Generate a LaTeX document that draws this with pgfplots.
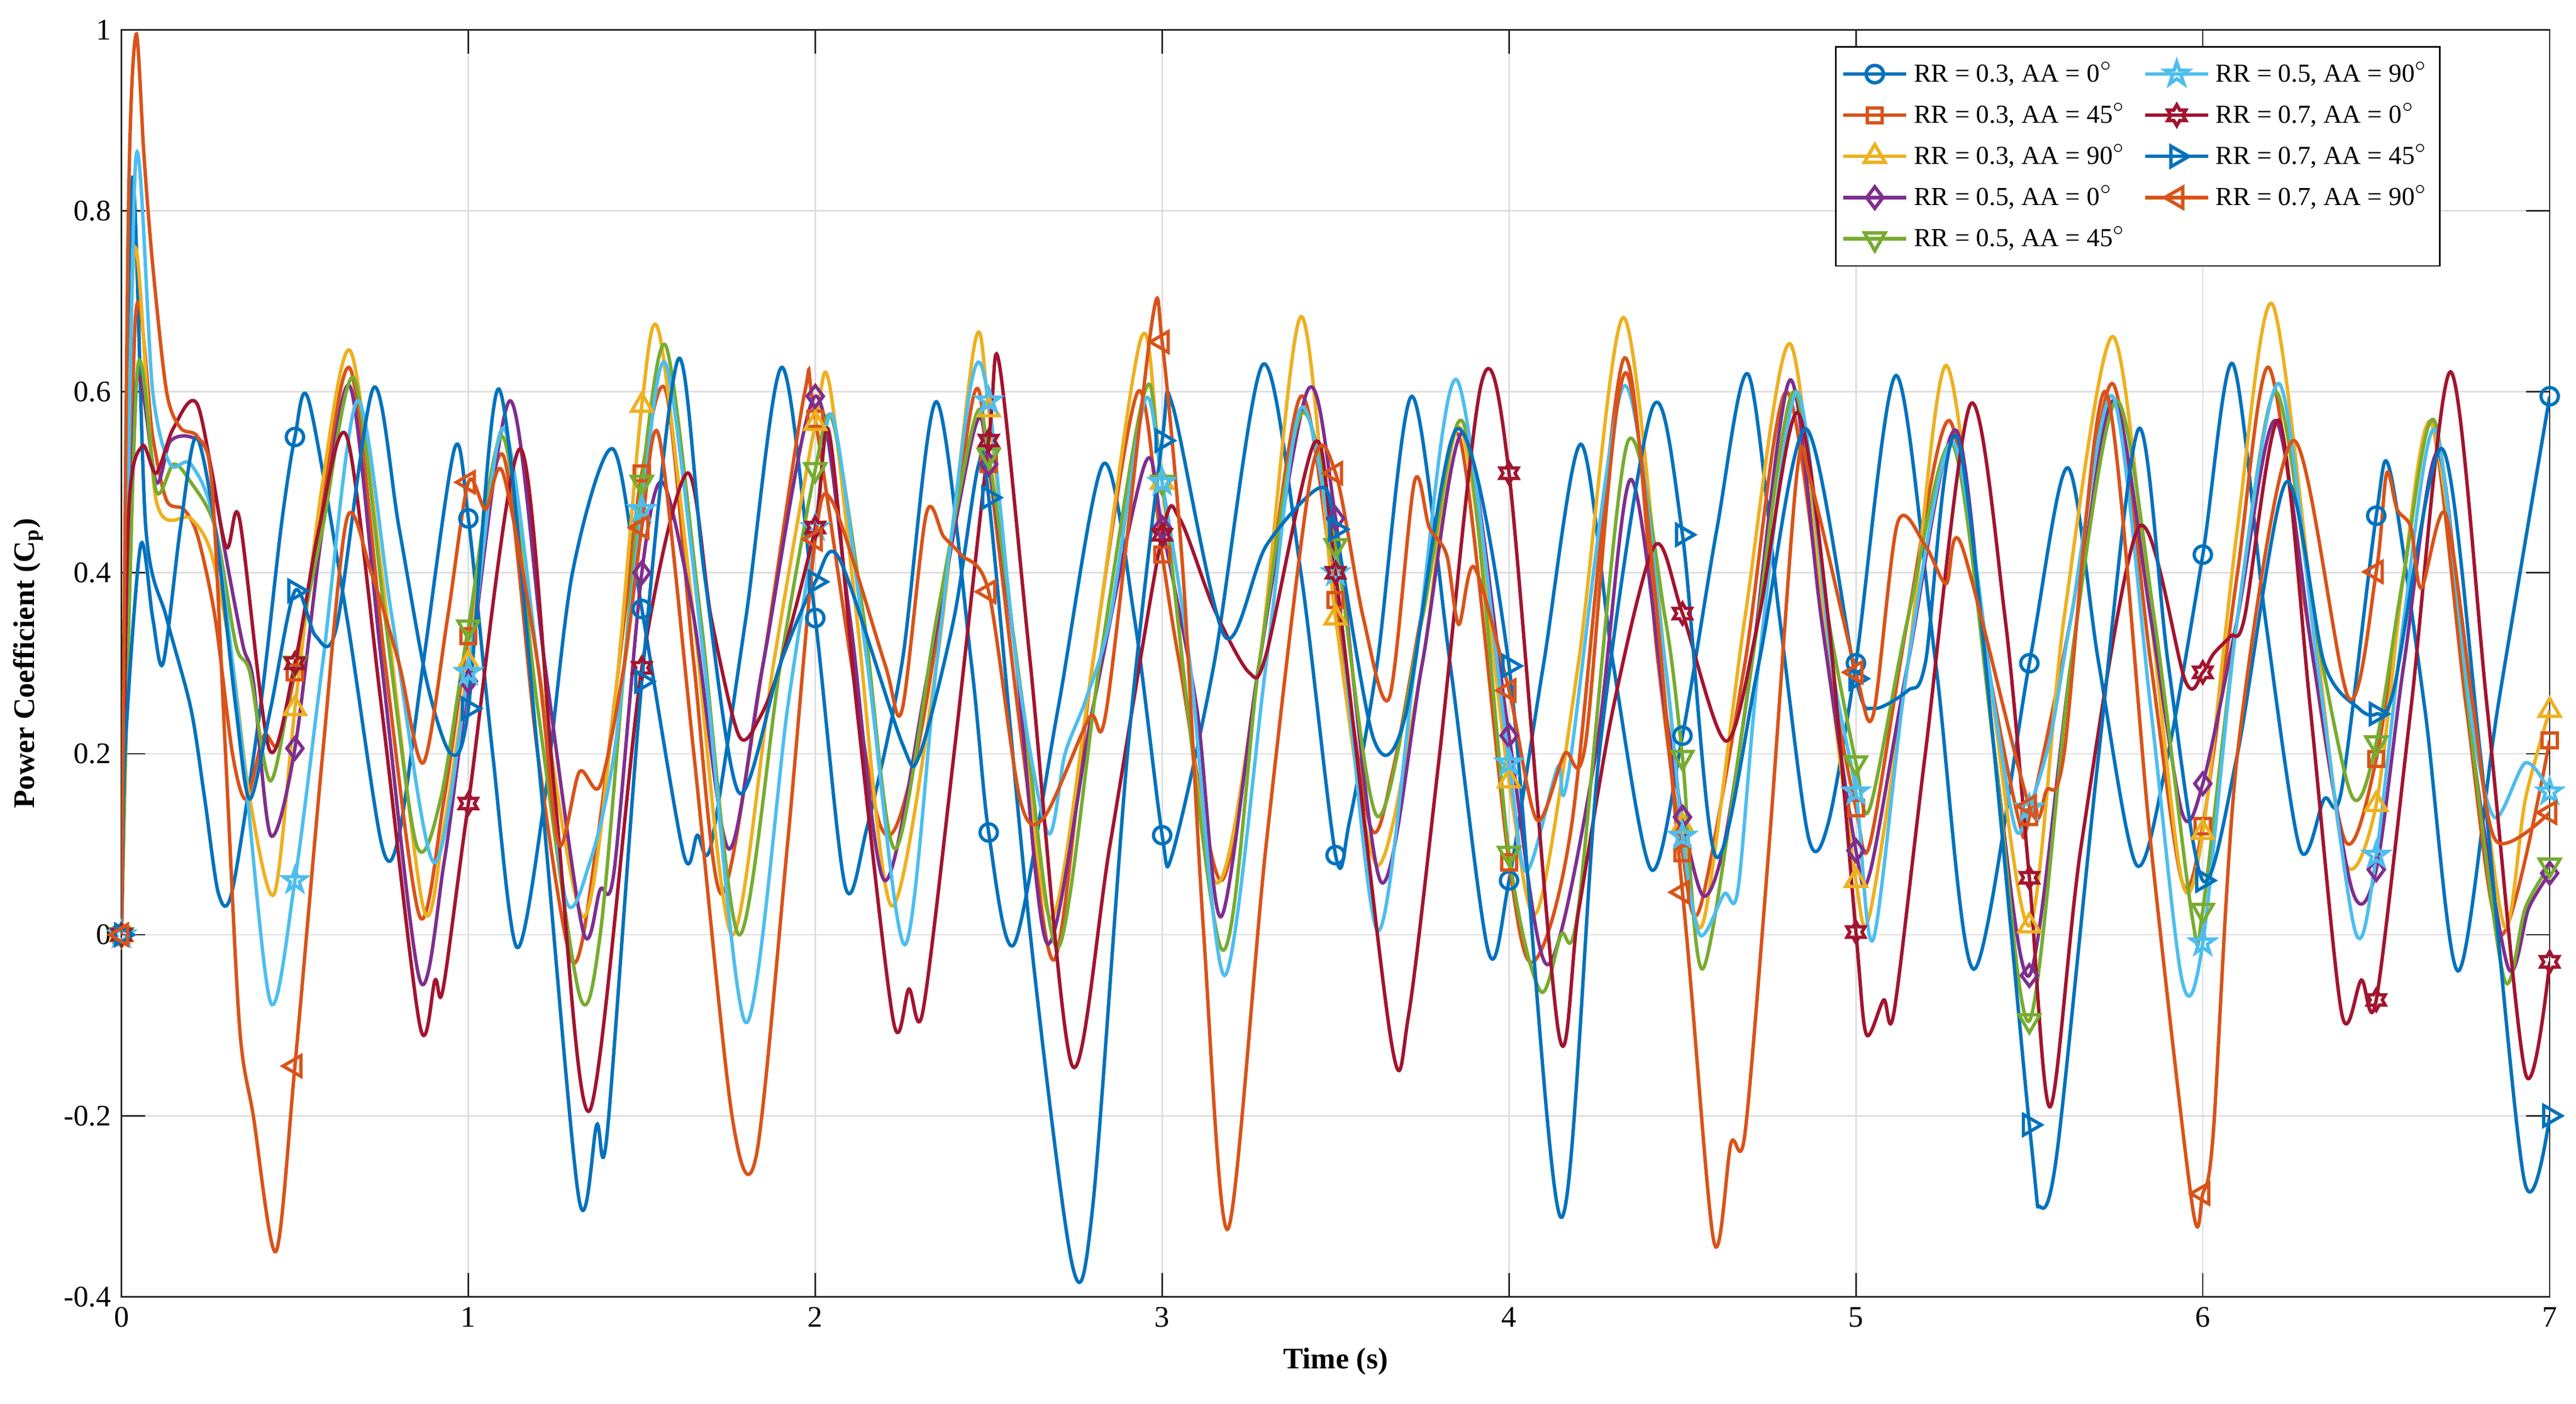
\documentclass[border=0pt]{standalone}
\usepackage{fontspec}
\setmainfont{Liberation Serif}
\usepackage{pgfplots}
\usepackage{pgfplotstable}
\pgfplotsset{compat=1.18}

\definecolor{cA}{rgb}{0,0.447,0.741}
\definecolor{cB}{rgb}{0.85,0.325,0.098}
\definecolor{cC}{rgb}{0.929,0.694,0.125}
\definecolor{cD}{rgb}{0.494,0.184,0.556}
\definecolor{cE}{rgb}{0.466,0.674,0.188}
\definecolor{cF}{rgb}{0.301,0.745,0.933}
\definecolor{cG}{rgb}{0.635,0.078,0.184}

\pgfdeclareplotmark{pentagram}{%
  \pgfpathmoveto{\pgfpointpolar{90}{1.3\pgfplotmarksize}}%
  \pgfpathlineto{\pgfpointpolar{126}{0.5\pgfplotmarksize}}%
  \pgfpathlineto{\pgfpointpolar{162}{1.3\pgfplotmarksize}}%
  \pgfpathlineto{\pgfpointpolar{198}{0.5\pgfplotmarksize}}%
  \pgfpathlineto{\pgfpointpolar{234}{1.3\pgfplotmarksize}}%
  \pgfpathlineto{\pgfpointpolar{270}{0.5\pgfplotmarksize}}%
  \pgfpathlineto{\pgfpointpolar{306}{1.3\pgfplotmarksize}}%
  \pgfpathlineto{\pgfpointpolar{342}{0.5\pgfplotmarksize}}%
  \pgfpathlineto{\pgfpointpolar{18}{1.3\pgfplotmarksize}}%
  \pgfpathlineto{\pgfpointpolar{54}{0.5\pgfplotmarksize}}%
  \pgfpathclose\pgfusepathqstroke}
\pgfdeclareplotmark{hexagram}{%
  \pgfpathmoveto{\pgfpointpolar{90}{1.2\pgfplotmarksize}}%
  \pgfpathlineto{\pgfpointpolar{120}{0.69\pgfplotmarksize}}%
  \pgfpathlineto{\pgfpointpolar{150}{1.2\pgfplotmarksize}}%
  \pgfpathlineto{\pgfpointpolar{180}{0.69\pgfplotmarksize}}%
  \pgfpathlineto{\pgfpointpolar{210}{1.2\pgfplotmarksize}}%
  \pgfpathlineto{\pgfpointpolar{240}{0.69\pgfplotmarksize}}%
  \pgfpathlineto{\pgfpointpolar{270}{1.2\pgfplotmarksize}}%
  \pgfpathlineto{\pgfpointpolar{300}{0.69\pgfplotmarksize}}%
  \pgfpathlineto{\pgfpointpolar{330}{1.2\pgfplotmarksize}}%
  \pgfpathlineto{\pgfpointpolar{0}{0.69\pgfplotmarksize}}%
  \pgfpathlineto{\pgfpointpolar{30}{1.2\pgfplotmarksize}}%
  \pgfpathlineto{\pgfpointpolar{60}{0.69\pgfplotmarksize}}%
  \pgfpathclose\pgfusepathqstroke}

% RR=0.3, AA=0
\pgfplotstableread[row sep=\\]{t v\\
0 0\\0.03 0.83\\0.07 0.45\\0.13 0.35\\0.2 0.25\\0.24 0.15\\0.28 0.045\\0.32 0.05\\0.4 0.25\\0.46 0.45\\
0.5 0.55\\0.54 0.59\\0.65 0.35\\0.75 0.1\\0.8 0.11\\0.87 0.3\\0.96 0.537\\1.0 0.46\\1.07 0.2\\1.14 -0.014\\
1.22 0.15\\1.3 0.4\\1.416 0.537\\1.5 0.36\\1.62 0.09\\1.66 0.11\\1.7 0.1\\1.8 0.35\\1.904 0.627\\2.0 0.35\\
2.086 0.054\\2.15 0.12\\2.25 0.3\\2.349 0.589\\2.45 0.3\\2.5 0.113\\2.574 -0.01\\2.7 0.25\\2.83 0.52\\2.92 0.35\\
3.0 0.11\\3.03 0.09\\3.15 0.3\\3.29 0.63\\3.4 0.4\\3.5 0.088\\3.54 0.125\\3.62 0.3\\3.72 0.595\\3.83 0.3\\
3.94 -0.018\\4.0 0.06\\4.1 0.3\\4.207 0.542\\4.3 0.3\\4.41 0.072\\4.5 0.22\\4.6 0.45\\4.69 0.619\\4.78 0.35\\
4.863 0.108\\4.92 0.123\\5.0 0.3\\5.116 0.618\\5.23 0.3\\5.34 -0.038\\5.5 0.3\\5.61 0.516\\5.7 0.3\\5.809 0.077\\
5.9 0.2\\6.0 0.42\\6.086 0.631\\6.18 0.35\\6.28 0.095\\6.35 0.15\\6.4 0.16\\6.5 0.463\\6.54 0.512\\6.64 0.25\\
6.736 -0.04\\6.85 0.25\\7.0 0.595\\}\dA
% RR=0.3, AA=45
\pgfplotstableread[row sep=\\]{t v\\
0 0\\0.04 0.68\\0.09 0.55\\0.13 0.48\\0.18 0.47\\0.22 0.44\\0.27 0.35\\0.32 0.2\\0.36 0.15\\0.41 0.22\\
0.45 0.21\\0.5 0.29\\0.57 0.45\\0.66 0.625\\0.76 0.3\\0.86 0.02\\0.93 0.15\\1.0 0.33\\1.1 0.53\\1.2 0.2\\
1.3 -0.03\\1.37 0.1\\1.45 0.35\\1.5 0.51\\1.57 0.6\\1.65 0.3\\1.73 0.045\\1.85 0.3\\1.97 0.6\\2.0 0.57\\
2.18 0.13\\2.28 0.18\\2.38 0.4\\2.46 0.6\\2.5 0.52\\2.6 0.2\\2.69 -0.027\\2.8 0.3\\2.93 0.6\\3.0 0.42\\
3.05 0.3\\3.17 0.06\\3.28 0.3\\3.4 0.595\\3.5 0.37\\3.6 0.12\\3.666 0.183\\3.77 0.4\\3.86 0.546\\4.0 0.08\\
4.07 -0.03\\4.18 0.12\\4.33 0.636\\4.43 0.3\\4.5 0.09\\4.55 0.029\\4.68 0.3\\4.8 0.6\\4.92 0.3\\5.0 0.14\\
5.04 0.1\\5.15 0.35\\5.27 0.568\\5.38 0.3\\5.47 0.126\\5.5 0.13\\5.62 0.35\\5.74 0.609\\5.85 0.3\\5.94 0.059\\
6.0 0.12\\6.1 0.4\\6.19 0.627\\6.3 0.35\\6.41 0.104\\6.5 0.194\\6.58 0.4\\6.66 0.565\\6.76 0.25\\6.86 0.0\\
7.0 0.215\\}\dB
% RR=0.3, AA=90
\pgfplotstableread[row sep=\\]{t v\\
0 0\\0.035 0.75\\0.1 0.48\\0.2 0.46\\0.26 0.42\\0.32 0.3\\0.37 0.15\\0.44 0.045\\0.5 0.25\\0.58 0.5\\
0.66 0.645\\0.75 0.4\\0.87 0.03\\0.93 0.12\\1.0 0.3\\1.1 0.56\\1.2 0.3\\1.33 0.02\\1.42 0.25\\1.5 0.585\\
1.55 0.665\\1.65 0.35\\1.76 0.0\\1.88 0.3\\2.0 0.565\\2.04 0.61\\2.12 0.35\\2.22 0.032\\2.35 0.3\\2.46 0.654\\
2.5 0.58\\2.58 0.3\\2.68 0.018\\2.8 0.3\\2.94 0.66\\3.0 0.5\\3.15 0.06\\3.28 0.3\\3.4 0.683\\3.5 0.35\\
3.62 0.077\\3.75 0.3\\3.86 0.56\\4.0 0.17\\4.08 0.025\\4.2 0.3\\4.33 0.682\\4.45 0.3\\4.5 0.12\\4.56 0.014\\
4.68 0.35\\4.81 0.653\\4.92 0.3\\5.0 0.06\\5.04 0.023\\5.15 0.3\\5.26 0.629\\5.38 0.3\\5.5 0.01\\5.6 0.35\\
5.74 0.661\\5.85 0.35\\5.94 0.059\\6.0 0.113\\6.1 0.45\\6.2 0.697\\6.32 0.35\\6.41 0.081\\6.5 0.144\\6.58 0.4\\
6.66 0.564\\6.78 0.25\\6.87 0.009\\6.93 0.15\\7.0 0.248\\}\dC
% RR=0.5, AA=0
\pgfplotstableread[row sep=\\]{t v\\
0 0\\0.04 0.6\\0.1 0.5\\0.14 0.545\\0.2 0.55\\0.25 0.53\\0.3 0.42\\0.35 0.32\\0.38 0.28\\0.43 0.11\\
0.5 0.206\\0.58 0.45\\0.66 0.605\\0.75 0.3\\0.86 -0.05\\0.93 0.08\\1.0 0.28\\1.12 0.59\\1.22 0.3\\1.33 0.005\\
1.38 0.05\\1.42 0.07\\1.5 0.4\\1.56 0.5\\1.65 0.35\\1.75 0.095\\1.85 0.3\\2.0 0.595\\2.1 0.35\\2.2 0.06\\
2.33 0.3\\2.46 0.56\\2.5 0.52\\2.58 0.3\\2.67 -0.01\\2.8 0.25\\2.95 0.52\\3.0 0.45\\3.1 0.25\\3.17 0.02\\
3.28 0.3\\3.42 0.602\\3.5 0.46\\3.63 0.059\\3.75 0.3\\3.87 0.555\\4.0 0.22\\4.11 -0.033\\4.25 0.2\\4.35 0.503\\
4.45 0.25\\4.5 0.13\\4.56 0.043\\4.62 0.1\\4.7 0.3\\4.81 0.613\\4.9 0.35\\5.0 0.093\\5.04 0.068\\5.15 0.3\\
5.29 0.557\\5.4 0.2\\5.5 -0.045\\5.62 0.3\\5.74 0.59\\5.85 0.35\\5.94 0.135\\6.0 0.167\\6.1 0.35\\6.21 0.568\\
6.32 0.3\\6.43 0.05\\6.5 0.072\\6.58 0.3\\6.68 0.532\\6.78 0.2\\6.88 -0.036\\6.94 0.03\\7.0 0.068\\}\dD
% RR=0.5, AA=45
\pgfplotstableread[row sep=\\]{t v\\
0 0\\0.045 0.62\\0.1 0.49\\0.15 0.52\\0.2 0.5\\0.27 0.45\\0.33 0.32\\0.37 0.29\\0.43 0.17\\0.5 0.3\\
0.58 0.45\\0.67 0.615\\0.76 0.35\\0.85 0.1\\0.92 0.15\\1.0 0.34\\1.1 0.55\\1.2 0.25\\1.32 -0.066\\1.38 0.0\\
1.45 0.3\\1.5 0.5\\1.57 0.65\\1.67 0.35\\1.78 0.0\\1.9 0.3\\2.0 0.514\\2.05 0.568\\2.14 0.35\\2.23 0.095\\
2.35 0.35\\2.46 0.57\\2.5 0.53\\2.6 0.25\\2.7 -0.014\\2.82 0.3\\2.95 0.6\\3.0 0.5\\3.17 -0.015\\3.28 0.3\\
3.4 0.575\\3.5 0.43\\3.62 0.131\\3.75 0.35\\3.87 0.564\\4.0 0.09\\4.09 -0.062\\4.15 0.0\\4.2 0.03\\4.34 0.542\\
4.45 0.35\\4.5 0.196\\4.56 -0.037\\4.7 0.3\\4.82 0.6\\4.92 0.35\\5.0 0.19\\5.04 0.14\\5.15 0.35\\5.28 0.541\\
5.4 0.2\\5.5 -0.095\\5.62 0.3\\5.75 0.59\\5.86 0.35\\5.97 0.018\\6.0 0.027\\6.1 0.35\\6.21 0.6\\6.32 0.35\\
6.43 0.153\\6.5 0.212\\6.58 0.4\\6.67 0.566\\6.78 0.2\\6.87 -0.05\\6.93 0.03\\7.0 0.077\\}\dE
% RR=0.5, AA=90
\pgfplotstableread[row sep=\\]{t v\\
0 0\\0.04 0.85\\0.09 0.6\\0.14 0.52\\0.2 0.52\\0.27 0.45\\0.35 0.2\\0.43 -0.075\\0.5 0.06\\0.58 0.3\\
0.68 0.59\\0.78 0.35\\0.9 0.08\\1.0 0.29\\1.1 0.56\\1.2 0.3\\1.28 0.04\\1.35 0.08\\1.42 0.2\\1.5 0.47\\
1.57 0.63\\1.68 0.3\\1.8 -0.097\\1.92 0.25\\2.0 0.45\\2.05 0.573\\2.15 0.3\\2.258 -0.011\\2.35 0.3\\2.45 0.61\\
2.5 0.59\\2.58 0.3\\2.67 0.113\\2.72 0.2\\2.78 0.26\\2.85 0.35\\2.95 0.59\\3.0 0.5\\3.08 0.3\\3.18 -0.045\\
3.3 0.3\\3.4 0.582\\3.5 0.4\\3.62 0.005\\3.73 0.3\\3.85 0.613\\4.0 0.19\\4.05 0.07\\4.14 0.185\\4.17 0.175\\
4.33 0.606\\4.45 0.3\\4.5 0.109\\4.55 0.0\\4.62 0.045\\4.66 0.05\\4.72 0.3\\4.83 0.6\\4.93 0.3\\5.0 0.158\\
5.05 -0.005\\5.15 0.3\\5.28 0.544\\5.4 0.25\\5.46 0.117\\5.5 0.14\\5.56 0.217\\5.62 0.35\\5.74 0.595\\5.85 0.25\\
5.94 -0.05\\6.0 -0.009\\6.1 0.35\\6.22 0.609\\6.33 0.3\\6.44 0.003\\6.5 0.088\\6.58 0.35\\6.67 0.558\\6.77 0.25\\
6.84 0.13\\6.93 0.19\\7.0 0.158\\}\dF
% RR=0.7, AA=0
\pgfplotstableread[row sep=\\]{t v\\
0 0\\0.02 0.46\\0.06 0.54\\0.1 0.51\\0.15 0.56\\0.22 0.585\\0.3 0.43\\0.34 0.46\\0.426 0.205\\0.5 0.3\\
0.57 0.45\\0.65 0.55\\0.75 0.25\\0.86 -0.1\\0.904 -0.05\\0.927 -0.06\\1.0 0.145\\1.149 0.537\\1.25 0.15\\1.35 -0.194\\
1.5 0.295\\1.63 0.51\\1.7 0.35\\1.78 0.22\\1.84 0.24\\1.9 0.3\\2.0 0.45\\2.04 0.555\\2.12 0.25\\2.225 -0.095\\
2.27 -0.06\\2.31 -0.085\\2.4 0.2\\2.5 0.546\\2.53 0.632\\2.62 0.3\\2.74 -0.144\\2.85 0.1\\3.0 0.442\\3.05 0.46\\
3.15 0.36\\3.25 0.29\\3.3 0.31\\3.44 0.544\\3.5 0.4\\3.66 -0.117\\3.71 -0.09\\3.8 0.2\\3.92 0.609\\4.0 0.51\\
4.142 -0.106\\4.2 0.025\\4.3 0.25\\4.42 0.43\\4.5 0.355\\4.626 0.214\\4.72 0.35\\4.83 0.577\\4.92 0.35\\5.0 0.003\\
5.03 -0.11\\5.08 -0.072\\5.11 -0.085\\5.2 0.2\\5.33 0.586\\5.43 0.35\\5.5 0.063\\5.56 -0.19\\5.65 0.1\\5.815 0.45\\
5.95 0.28\\6.0 0.29\\6.03 0.31\\6.08 0.33\\6.12 0.35\\6.22 0.568\\6.31 0.25\\6.4 -0.086\\6.457 -0.05\\6.5 -0.072\\
6.6 0.25\\6.714 0.622\\6.82 0.25\\6.93 -0.153\\7.0 -0.03\\}\dG
% RR=0.7, AA=45
\pgfplotstableread[row sep=\\]{t v\\
0 0\\0.01 0.2\\0.055 0.43\\0.09 0.35\\0.12 0.3\\0.17 0.45\\0.215 0.55\\0.27 0.45\\0.33 0.25\\0.37 0.15\\
0.43 0.25\\0.5 0.38\\0.56 0.33\\0.62 0.34\\0.726 0.604\\0.8 0.45\\0.88 0.28\\0.95 0.2\\1.0 0.25\\1.088 0.603\\
1.2 0.2\\1.318 -0.29\\1.37 -0.21\\1.4 -0.22\\1.5 0.28\\1.605 0.636\\1.68 0.4\\1.78 0.157\\1.9 0.3\\2.0 0.39\\
2.07 0.415\\2.25 0.212\\2.3 0.198\\2.4 0.35\\2.47 0.518\\2.5 0.483\\2.62 0.0\\2.741 -0.365\\2.8 -0.3\\2.9 0.2\\
3.0 0.546\\3.03 0.585\\3.18 0.33\\3.3 0.43\\3.455 0.494\\3.5 0.448\\3.61 0.216\\3.7 0.24\\3.85 0.559\\4.0 0.297\\
4.149 -0.312\\4.26 0.2\\4.413 0.582\\4.5 0.442\\4.595 0.087\\4.72 0.3\\4.856 0.559\\5.0 0.283\\5.05 0.25\\5.15 0.27\\
5.2 0.3\\5.3 0.54\\5.5 -0.21\\5.53 -0.3\\5.58 -0.24\\5.7 0.2\\5.815 0.559\\5.9 0.3\\6.0 0.06\\6.1 0.2\\
6.24 0.5\\6.35 0.3\\6.45 0.25\\6.5 0.244\\6.55 0.27\\6.69 0.537\\6.8 0.2\\6.926 -0.27\\7.0 -0.2\\}\dH
% RR=0.7, AA=90
\pgfplotstableread[row sep=\\]{t v\\
0 0\\0.02 0.8\\0.042 0.995\\0.065 0.86\\0.09 0.74\\0.13 0.6\\0.17 0.56\\0.22 0.55\\0.26 0.5\\0.3 0.2\\0.34 -0.1\\0.38 -0.2\\
0.445 -0.35\\0.5 -0.145\\0.58 0.2\\0.65 0.46\\0.72 0.4\\0.8 0.3\\0.87 0.19\\0.94 0.35\\1.0 0.5\\1.05 0.47\\
1.1 0.51\\1.2 0.3\\1.26 0.1\\1.32 0.18\\1.38 0.165\\1.45 0.3\\1.5 0.45\\1.55 0.55\\1.65 0.2\\1.76 -0.2\\
1.83 -0.244\\1.92 0.1\\2.0 0.437\\2.05 0.478\\2.2 0.3\\2.25 0.248\\2.32 0.465\\2.37 0.44\\2.42 0.42\\2.5 0.379\\
2.59 0.15\\2.66 0.13\\2.79 0.24\\2.84 0.25\\2.97 0.675\\3.0 0.655\\3.06 0.4\\3.12 0.0\\3.19 -0.325\\3.3 0.1\\3.43 0.51\\
3.5 0.51\\3.58 0.35\\3.655 0.262\\3.727 0.5\\3.77 0.45\\3.82 0.42\\3.855 0.343\\3.9 0.406\\4.0 0.27\\4.08 0.127\\
4.16 0.2\\4.22 0.21\\4.34 0.62\\4.5 0.047\\4.59 -0.338\\4.64 -0.23\\4.68 -0.22\\4.75 0.1\\4.83 0.51\\4.87 0.5\\
5.0 0.29\\5.05 0.243\\5.12 0.455\\5.2 0.43\\5.26 0.388\\5.305 0.43\\5.5 0.142\\5.55 0.16\\5.6 0.2\\5.72 0.6\\
5.85 0.1\\5.97 -0.3\\6.0 -0.286\\6.03 -0.22\\6.1 0.2\\6.26 0.546\\6.42 0.262\\6.5 0.401\\6.53 0.51\\6.56 0.47\\
6.6 0.45\\6.63 0.383\\6.7 0.465\\6.78 0.25\\6.845 0.104\\7.0 0.135\\}\dI

\pgfplotsset{
  ln/.style={line width=1.15pt, smooth, tension=0.5, forget plot},
  mk/.style={only marks, forget plot,
    restrict expr to domain={mod(round(\thisrow{t}*1000),500)}{-1:1}},
}

\begin{document}
\begin{tikzpicture}
\begin{axis}[
  at={(0,0)}, anchor=south west, scale only axis,
  width=28.58cm, height=14.91cm,
  xmin=0, xmax=7, ymin=-0.4, ymax=1,
  xtick={0,1,2,3,4,5,6,7},
  ytick={-0.4,-0.2,0,0.2,0.4,0.6,0.8,1},
  grid=major, grid style={line width=0.5pt, draw=black!13},
  axis line style={line width=0.5pt, draw=black!85},
  tick style={line width=0.5pt, draw=black!85},
  tick align=inside, major tick length=0.28cm,
  /pgf/number format/assume math mode=true,
  xlabel={\textbf{Time (s)}},
  ylabel={\textbf{Power Coefficient (C$_{\mathbf{p}}$)}},
  legend columns=2,
  legend cell align=left,
  legend image code/.code={\draw[mark repeat=2,mark phase=2] plot coordinates {(0cm,0cm) (0.37cm,0cm) (0.74cm,0cm)};},
  legend style={at={(axis description cs:0.955,0.987)}, anchor=north east,
    draw=black, line width=0.5pt, fill=white, font=\fontsize{8.7}{10}\selectfont,
    row sep=1.6pt, inner xsep=2pt, inner ysep=3pt,
    /tikz/every even column/.append style={column sep=0.14cm}},
]
\addplot[ln, cA] table[x=t,y=v]{\dA};
\addplot[ln, cB] table[x=t,y=v]{\dB};
\addplot[ln, cC] table[x=t,y=v]{\dC};
\addplot[ln, cD] table[x=t,y=v]{\dD};
\addplot[ln, cE] table[x=t,y=v]{\dE};
\addplot[ln, cF] table[x=t,y=v]{\dF};
\addplot[ln, cG] table[x=t,y=v]{\dG};
\addplot[ln, cA] table[x=t,y=v]{\dH};
\addplot[ln, cB] table[x=t,y=v]{\dI};

\addplot[mk, cA, mark=o, mark size=2.9pt, mark options={solid, line width=1.1pt}] table[x=t,y=v]{\dA};
\addplot[mk, cB, mark=square, mark size=2.5pt, mark options={solid, line width=1.1pt}] table[x=t,y=v]{\dB};
\addplot[mk, cC, mark=triangle, mark size=4pt, mark options={solid, line width=1.1pt}] table[x=t,y=v]{\dC};
\addplot[mk, cD, mark=diamond, mark size=3.6pt, mark options={solid, line width=1.1pt}] table[x=t,y=v]{\dD};
\addplot[mk, cE, mark=triangle, mark size=4pt, mark options={solid, line width=1.1pt, rotate=180}] table[x=t,y=v]{\dE};
\addplot[mk, cF, mark=pentagram, mark size=3.1pt, mark options={solid, line width=1.1pt}] table[x=t,y=v]{\dF};
\addplot[mk, cG, mark=hexagram, mark size=2.9pt, mark options={solid, line width=1.1pt}] table[x=t,y=v]{\dG};
\addplot[mk, cA, mark=triangle, mark size=4pt, mark options={solid, line width=1.1pt, rotate=-90}] table[x=t,y=v]{\dH};
\addplot[mk, cB, mark=triangle, mark size=4pt, mark options={solid, line width=1.1pt, rotate=90}] table[x=t,y=v]{\dI};

\addlegendimage{cA, line width=1.15pt, mark=o, mark size=2.9pt, mark options={solid}}
\addlegendentry{RR = 0.3, AA = 0$^{\circ}$}
\addlegendimage{cF, line width=1.15pt, mark=pentagram, mark size=3.1pt, mark options={solid}}
\addlegendentry{RR = 0.5, AA = 90$^{\circ}$}
\addlegendimage{cB, line width=1.15pt, mark=square, mark size=2.5pt, mark options={solid}}
\addlegendentry{RR = 0.3, AA = 45$^{\circ}$}
\addlegendimage{cG, line width=1.15pt, mark=hexagram, mark size=2.9pt, mark options={solid}}
\addlegendentry{RR = 0.7, AA = 0$^{\circ}$}
\addlegendimage{cC, line width=1.15pt, mark=triangle, mark size=4pt, mark options={solid}}
\addlegendentry{RR = 0.3, AA = 90$^{\circ}$}
\addlegendimage{cA, line width=1.15pt, mark=triangle, mark size=4pt, mark options={solid, rotate=-90}}
\addlegendentry{RR = 0.7, AA = 45$^{\circ}$}
\addlegendimage{cD, line width=1.15pt, mark=diamond, mark size=3.6pt, mark options={solid}}
\addlegendentry{RR = 0.5, AA = 0$^{\circ}$}
\addlegendimage{cB, line width=1.15pt, mark=triangle, mark size=4pt, mark options={solid, rotate=90}}
\addlegendentry{RR = 0.7, AA = 90$^{\circ}$}
\addlegendimage{cE, line width=1.15pt, mark=triangle, mark size=4pt, mark options={solid, rotate=180}}
\addlegendentry{RR = 0.5, AA = 45$^{\circ}$}
\end{axis}
\pgfresetboundingbox
\path[use as bounding box] (-1.43cm,-1.26cm) rectangle (28.89cm,15.26cm);
\end{tikzpicture}
\end{document}
